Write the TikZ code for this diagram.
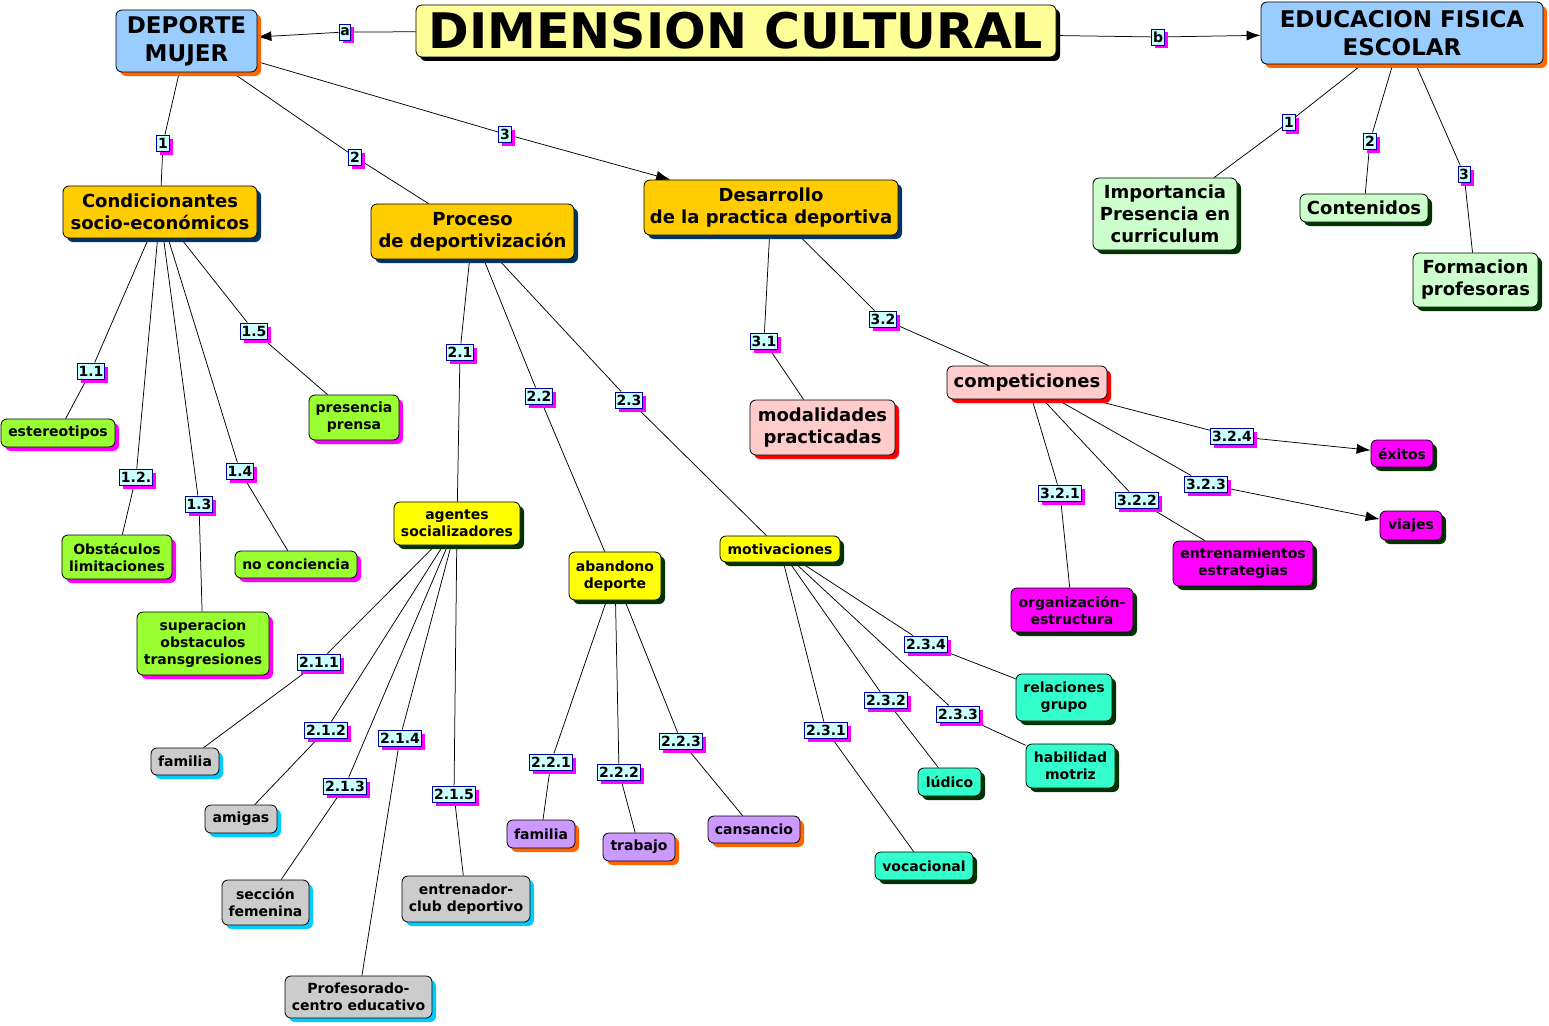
\documentclass[tikz,border=0pt]{standalone}
\usepackage{fontspec}
\setmainfont{DejaVu Sans}
\usetikzlibrary{shadows,arrows.meta,backgrounds}
\definecolor{titlefill}{HTML}{FFFF99}
\definecolor{bluefill}{HTML}{99CCFF}
\definecolor{orangesh}{HTML}{FF6600}
\definecolor{goldfill}{HTML}{FFCC00}
\definecolor{navysh}{HTML}{003366}
\definecolor{paleg}{HTML}{CCFFCC}
\definecolor{darkgsh}{HTML}{003300}
\definecolor{limefill}{HTML}{99FF33}
\definecolor{magfill}{HTML}{FF00FF}
\definecolor{yelfill}{HTML}{FFFF00}
\definecolor{pinkfill}{HTML}{FFCCCC}
\definecolor{redsh}{HTML}{FF0000}
\definecolor{aquafill}{HTML}{33FFCC}
\definecolor{grayfill}{HTML}{CCCCCC}
\definecolor{cyansh}{HTML}{00CCFF}
\definecolor{lavfill}{HTML}{CC99FF}
\definecolor{labfill}{HTML}{CCFFFF}
\definecolor{labdraw}{HTML}{000099}
\tikzset{
  base/.style={draw=black, line width=0.8pt, rounded corners=6pt, align=center, inner sep=1pt, text=black},
  fT/.style={font=\bfseries\fontsize{49}{55}\selectfont},
  fA/.style={font=\bfseries\fontsize{23}{28}\selectfont},
  fB/.style={font=\bfseries\fontsize{18}{22}\selectfont},
  fC/.style={font=\bfseries\fontsize{14}{17}\selectfont},
  sh/.style={drop shadow={shadow xshift=4pt, shadow yshift=-4pt, fill=#1, opacity=1}},
  sz/.style n args={2}{minimum width=#1pt, minimum height=#2pt},
  titlebox/.style={base, fT, fill=titlefill, sh=black},
  topbox/.style={base, fA, fill=bluefill, sh=orangesh},
  goldbox/.style={base, fB, fill=goldfill, sh=navysh},
  efbox/.style={base, fB, fill=paleg, sh=darkgsh},
  pinkbox/.style={base, fB, fill=pinkfill, sh=redsh},
  limebox/.style={base, fC, fill=limefill, sh=magfill},
  yelbox/.style={base, fC, fill=yelfill, sh=darkgsh},
  magbox/.style={base, fC, fill=magfill, sh=darkgsh},
  aquabox/.style={base, fC, fill=aquafill, sh=darkgsh},
  graybox/.style={base, fC, fill=grayfill, sh=cyansh},
  lavbox/.style={base, fC, fill=lavfill, sh=orangesh},
  lab/.style={draw=labdraw, fill=labfill, line width=0.9pt, inner xsep=1.2pt, inner ysep=1pt,
    minimum height=16pt, font=\bfseries\fontsize{14}{14}\selectfont,
    drop shadow={shadow xshift=3.5pt, shadow yshift=-3.5pt, fill=magfill, opacity=1}},
  link/.style={line width=0.75pt, draw=black},
  arr/.style={-{Latex[length=14pt,width=10pt]}},
}
\begin{document}
\begin{tikzpicture}[x=1pt,y=-1pt]
\useasboundingbox (0,0) rectangle (1549,1025);
% main nodes
\node[titlebox, sz={640}{52}] (title) at (736,31) {DIMENSION CULTURAL};
\node[topbox, sz={141}{62}] (dm) at (186.5,41) {DEPORTE\\MUJER};
\node[topbox, sz={282}{62}] (ef) at (1402,33) {EDUCACION FISICA\\ESCOLAR};
\node[goldbox, sz={194}{52}] (cond) at (160,212) {Condicionantes\\socio-económicos};
\node[goldbox, sz={203}{55}] (proc) at (472.5,231.5) {Proceso\\de deportivización};
\node[goldbox, sz={254}{55}] (des) at (771,207.5) {Desarrollo\\de la practica deportiva};
\node[efbox, sz={144}{72}] (imp) at (1165,214) {Importancia\\Presencia en\\curriculum};
\node[efbox, sz={128}{28}] (cont) at (1364,208) {Contenidos};
\node[efbox, sz={125}{54}] (form) at (1475.5,280) {Formacion\\profesoras};
\node[pinkbox, sz={145}{55}] (moda) at (822.5,427.5) {modalidades\\practicadas};
\node[pinkbox, sz={160}{33}] (comp) at (1027,382.5) {competiciones};
\node[limebox, sz={114}{28}] (est) at (58,433) {estereotipos};
\node[limebox, sz={90}{45}] (pren) at (354,417.5) {presencia\\prensa};
\node[limebox, sz={110}{44}] (obs) at (117,557) {Obstáculos\\limitaciones};
\node[limebox, sz={122}{27}] (noc) at (296,564.5) {no conciencia};
\node[limebox, sz={132}{63}] (sup) at (203,643.5) {superacion\\obstaculos\\transgresiones};
\node[yelbox, sz={126}{43}] (agen) at (457,523.5) {agentes\\socializadores};
\node[yelbox, sz={92}{48}] (aban) at (615,576) {abandono\\deporte};
\node[yelbox, sz={120}{26}] (moti) at (780,549) {motivaciones};
\node[magbox, sz={62}{27}] (exit) at (1402,453.5) {éxitos};
\node[magbox, sz={62}{29}] (viaj) at (1411,525.5) {viajes};
\node[magbox, sz={140}{45}] (entr) at (1243,563.5) {entrenamientos\\estrategias};
\node[magbox, sz={122}{44}] (org) at (1072,610) {organización-\\estructura};
\node[aquabox, sz={96}{47}] (rela) at (1064,697.5) {relaciones\\grupo};
\node[aquabox, sz={89}{44}] (habi) at (1070.5,766) {habilidad\\motriz};
\node[aquabox, sz={63}{28}] (ludi) at (949.5,782) {lúdico};
\node[aquabox, sz={98}{28}] (voca) at (924,866) {vocacional};
\node[graybox, sz={68}{27}] (fam1) at (185,761.5) {familia};
\node[graybox, sz={72}{28}] (amig) at (241,819) {amigas};
\node[graybox, sz={87}{45}] (secc) at (265.5,902.5) {sección\\femenina};
\node[graybox, sz={128}{46}] (entc) at (466,899) {entrenador-\\club deportivo};
\node[graybox, sz={147}{42}] (prof) at (358.5,997) {Profesorado-\\centro educativo};
\node[lavbox, sz={68}{28}] (fam2) at (541,834) {familia};
\node[lavbox, sz={72}{28}] (trab) at (639,847) {trabajo};
\node[lavbox, sz={92}{27}] (cans) at (754,829.5) {cansancio};
% link labels
\node[lab] (la) at (345,32) {a};
\node[lab] (lb) at (1158,37) {b};
\node[lab] (l1) at (163,143) {1};
\node[lab] (l2) at (355,157) {2};
\node[lab] (l3) at (505,134) {3};
\node[lab] (le1) at (1289,122) {1};
\node[lab] (le2) at (1370,141) {2};
\node[lab] (le3) at (1464,174) {3};
\node[lab] (l11) at (91,371) {1.1};
\node[lab] (l12) at (136,477) {1.2.};
\node[lab] (l13) at (199,504) {1.3};
\node[lab] (l14) at (240,471) {1.4};
\node[lab] (l15) at (254,331) {1.5};
\node[lab] (l21) at (460,352) {2.1};
\node[lab] (l22) at (539,396) {2.2};
\node[lab] (l23) at (629,400) {2.3};
\node[lab] (l31) at (764,341) {3.1};
\node[lab] (l32) at (883,319) {3.2};
\node[lab] (l321) at (1060,493) {3.2.1};
\node[lab] (l322) at (1137,500) {3.2.2};
\node[lab] (l323) at (1206,484) {3.2.3};
\node[lab] (l324) at (1232,436) {3.2.4};
\node[lab] (l211) at (319,662) {2.1.1};
\node[lab] (l212) at (326,730) {2.1.2};
\node[lab] (l213) at (345,786) {2.1.3};
\node[lab] (l214) at (400,738) {2.1.4};
\node[lab] (l215) at (454,794) {2.1.5};
\node[lab] (l221) at (551,762) {2.2.1};
\node[lab] (l222) at (619,772) {2.2.2};
\node[lab] (l223) at (681,741) {2.2.3};
\node[lab] (l231) at (826,730) {2.3.1};
\node[lab] (l232) at (886,700) {2.3.2};
\node[lab] (l233) at (958,714) {2.3.3};
\node[lab] (l234) at (926,644) {2.3.4};
% connectors
\begin{scope}[on background layer]
\draw[link] (title) -- (la); \draw[link,arr] (la) -- (dm);
\draw[link] (title) -- (lb); \draw[link,arr] (lb) -- (ef);
\draw[link] (dm) -- (l1) -- (cond);
\draw[link] (dm) -- (l2) -- (proc);
\draw[link] (dm) -- (l3); \draw[link,arr] (l3) -- (des);
\draw[link] (ef) -- (le1) -- (imp);
\draw[link] (ef) -- (le2) -- (cont);
\draw[link] (ef) -- (le3) -- (form);
\draw[link] (cond) -- (l11) -- (est);
\draw[link] (cond) -- (l12) -- (obs);
\draw[link] (cond) -- (l13) -- (sup);
\draw[link] (cond) -- (l14) -- (noc);
\draw[link] (cond) -- (l15) -- (pren);
\draw[link] (proc) -- (l21) -- (agen);
\draw[link] (proc) -- (l22) -- (aban);
\draw[link] (proc) -- (l23) -- (moti);
\draw[link] (des) -- (l31) -- (moda);
\draw[link] (des) -- (l32) -- (comp);
\draw[link] (comp) -- (l321) -- (org);
\draw[link] (comp) -- (l322) -- (entr);
\draw[link] (comp) -- (l323); \draw[link,arr] (l323) -- (viaj);
\draw[link] (comp) -- (l324); \draw[link,arr] (l324) -- (exit);
\draw[link] (agen) -- (l211) -- (fam1);
\draw[link] (agen) -- (l212) -- (amig);
\draw[link] (agen) -- (l213) -- (secc);
\draw[link] (agen) -- (l214) -- (prof);
\draw[link] (agen) -- (l215) -- (entc);
\draw[link] (aban) -- (l221) -- (fam2);
\draw[link] (aban) -- (l222) -- (trab);
\draw[link] (aban) -- (l223) -- (cans);
\draw[link] (moti) -- (l231) -- (voca);
\draw[link] (moti) -- (l232) -- (ludi);
\draw[link] (moti) -- (l233) -- (habi);
\draw[link] (moti) -- (l234) -- (rela);
\end{scope}
\end{tikzpicture}
\end{document}
